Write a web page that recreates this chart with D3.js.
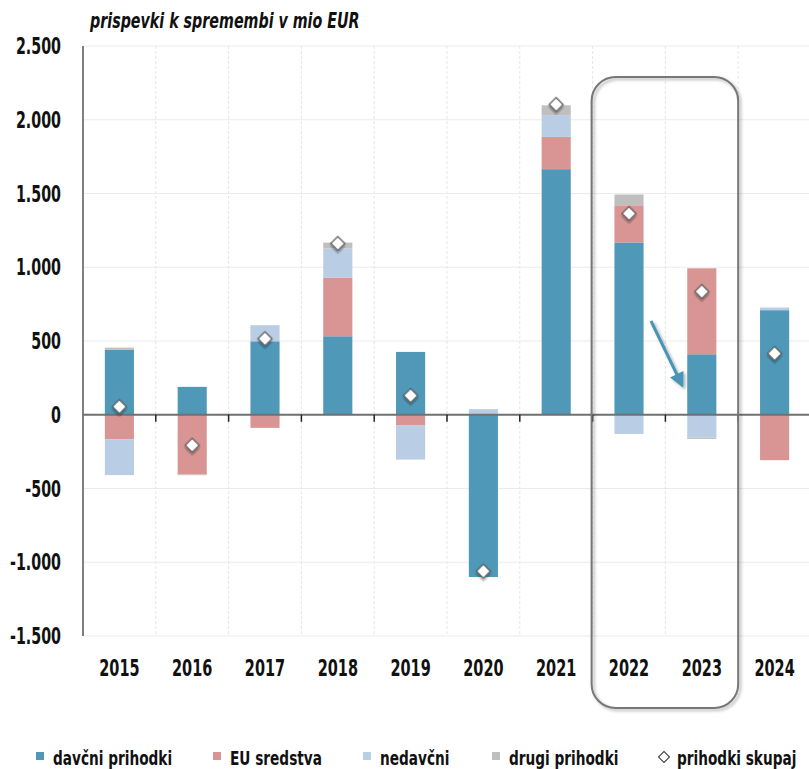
<!DOCTYPE html>
<html>
<head>
<meta charset="utf-8">
<script src="https://cdn.jsdelivr.net/npm/d3@7"></script>
<style>
  body { margin: 0; background: #fff; }
  svg { display: block; font-family: "DejaVu Sans", sans-serif; }
</style>
</head>
<body>
<svg id="chart" width="809" height="769"></svg>
<script>
// data (mio EUR)
const years = ["2015","2016","2017","2018","2019","2020","2021","2022","2023","2024"];
const davcni   = [440, 189, 498, 532, 426, -1100, 1665, 1168, 410, 709];
const euSred   = [-166, -405, -89, 398, -73, 0, 219, 252, 583, -308];
const nedavcni = [-243, 0, 109, 197, -231, 38, 147, -130, -155, 18];
const drugi    = [15, -5, 0, 40, 0, 0, 67, 73, -9, 0];
const skupaj   = [55, -207, 515, 1161, 130, -1061, 2103, 1364, 835, 415];

const yTicks = [-1500, -1000, -500, 0, 500, 1000, 1500, 2000, 2500];
const keys = ["davcni", "eu", "nedavcni", "drugi"];
const labels = {davcni: "davčni prihodki", eu: "EU sredstva", nedavcni: "nedavčni", drugi: "drugi prihodki"};
const color = d3.scaleOrdinal()
    .domain(keys)
    .range(["#4f98b8", "#d99594", "#b9cde4", "#bfbfbf"]);

const rows = years.map((yr, i) => ({
    year: yr, davcni: davcni[i], eu: euSred[i], nedavcni: nedavcni[i], drugi: drugi[i], total: skupaj[i]
}));

const svg = d3.select("#chart");
const margin = {top: 46, right: 0, bottom: 133, left: 83};
const width = 811 - margin.left, height = 769 - margin.top - margin.bottom;

const x = d3.scaleBand().domain(years).range([margin.left, margin.left + width]).paddingInner(0).paddingOuter(0);
const y = d3.scaleLinear().domain([-1500, 2500]).range([margin.top + height, margin.top]);

// narrow text: the original uses a condensed face, so squeeze DejaVu horizontally
const narrow = (sx) => (sel) => sel
    .attr("transform", function() {
        const t = d3.select(this);
        return `translate(${t.attr("data-x")},${t.attr("data-y")}) scale(${sx},1)`;
    });

const defs = svg.append("defs");
const sh = defs.append("filter").attr("id", "shadow").attr("x", "-20%").attr("y", "-20%").attr("width", "150%").attr("height", "150%");
sh.append("feDropShadow").attr("dx", 2).attr("dy", 2).attr("stdDeviation", 1.8)
    .attr("flood-color", "#000").attr("flood-opacity", 0.3);
defs.append("marker").attr("id", "arrowhead")
    .attr("viewBox", "0 0 10 10").attr("refX", 8).attr("refY", 5)
    .attr("markerWidth", 5.5).attr("markerHeight", 5).attr("markerUnits", "strokeWidth")
    .attr("orient", "auto")
  .append("path").attr("d", "M0,0 L10,5 L0,10 z").attr("fill", "#4a95b5");

// grid
svg.append("g").selectAll("line").data(yTicks).join("line")
    .attr("x1", margin.left).attr("x2", margin.left + width)
    .attr("y1", d => y(d)).attr("y2", d => y(d))
    .attr("stroke", "#ebebeb").attr("stroke-width", 1);
svg.append("g").selectAll("line").data(years.slice(1)).join("line")
    .attr("x1", d => x(d)).attr("x2", d => x(d))
    .attr("y1", y(2500)).attr("y2", y(-1500))
    .attr("stroke", "#e6e6e6").attr("stroke-width", 1).attr("stroke-dasharray", "3 2");

// stacked bars
const series = d3.stack().keys(keys).offset(d3.stackOffsetDiverging)(rows);
const barW = x.bandwidth() * 0.4;
svg.append("g").selectAll("g").data(series).join("g")
    .attr("fill", d => color(d.key))
  .selectAll("rect").data(d => d).join("rect")
    .attr("x", d => x(d.data.year) + (x.bandwidth() - barW) / 2)
    .attr("width", barW)
    .attr("y", d => y(d[1]))
    .attr("height", d => y(d[0]) - y(d[1]));

// axes lines
svg.append("line")
    .attr("x1", margin.left).attr("x2", margin.left)
    .attr("y1", y(2500)).attr("y2", y(-1500))
    .attr("stroke", "#808080").attr("stroke-width", 2);
svg.append("line")
    .attr("x1", margin.left).attr("x2", margin.left + width)
    .attr("y1", y(0)).attr("y2", y(0))
    .attr("stroke", "#707070").attr("stroke-width", 2);
svg.append("g").selectAll("line").data(years.slice(1)).join("line")
    .attr("x1", d => x(d)).attr("x2", d => x(d))
    .attr("y1", y(0)).attr("y2", y(0) + 7)
    .attr("stroke", "#222").attr("stroke-width", 1.5);

// y labels
const fmt = d => d3.format(",")(d).replace(/,/g, ".").replace("−", "-");
svg.append("g").selectAll("text").data(yTicks).join("text")
    .attr("data-x", 61).attr("data-y", d => y(d) + 8)
    .attr("text-anchor", "end").attr("font-size", 23).attr("font-weight", "bold").attr("fill", "#111")
    .text(fmt)
    .call(narrow(0.62));

// x labels
svg.append("g").selectAll("text").data(years).join("text")
    .attr("data-x", d => x(d) + x.bandwidth() / 2).attr("data-y", 676)
    .attr("text-anchor", "middle").attr("font-size", 23).attr("font-weight", "bold").attr("fill", "#111")
    .text(d => d)
    .call(narrow(0.63));

// totals
const diamond = d3.symbol().type(d3.symbolSquare).size(98);
svg.append("g").selectAll("path").data(rows).join("path")
    .attr("d", diamond)
    .attr("transform", d => `translate(${x(d.year) + x.bandwidth() / 2},${y(d.total)}) rotate(45)`)
    .attr("fill", "#fff").attr("stroke", "#555").attr("stroke-width", 1.2)
    .attr("filter", "url(#shadow)");

// highlight box around 2022-2023
svg.append("rect")
    .attr("x", x("2022") - 1).attr("y", 77)
    .attr("width", x("2024") - x("2022") + 1).attr("height", 631)
    .attr("rx", 24).attr("ry", 24)
    .attr("fill", "none").attr("stroke", "#777").attr("stroke-width", 2)
    .attr("filter", "url(#shadow)");

// arrow
svg.append("line")
    .attr("x1", 651).attr("y1", 321).attr("x2", 682).attr("y2", 385)
    .attr("stroke", "#4a95b5").attr("stroke-width", 3)
    .attr("marker-end", "url(#arrowhead)")
    .attr("filter", "url(#shadow)");

// title
svg.append("text")
    .attr("data-x", 90).attr("data-y", 28)
    .attr("font-size", 21).attr("font-style", "italic").attr("font-weight", "bold").attr("fill", "#111")
    .text("prispevki k spremembi v mio EUR")
    .call(narrow(0.68));

// legend
const legendItems = [
    {key: "davcni", x: 36},
    {key: "eu", x: 213},
    {key: "nedavcni", x: 363},
    {key: "drugi", x: 492}
];
const lg = svg.append("g");
legendItems.forEach(it => {
    lg.append("rect").attr("x", it.x).attr("y", 752).attr("width", 8).attr("height", 8)
        .attr("fill", color(it.key));
    lg.append("text").attr("data-x", it.x + 17).attr("data-y", 765)
        .attr("font-size", 19).attr("font-weight", "bold").attr("fill", "#111").text(labels[it.key])
        .call(narrow(0.72));
});
lg.append("path").attr("d", d3.symbol().type(d3.symbolSquare).size(60))
    .attr("transform", "translate(664,757) rotate(45)")
    .attr("fill", "#fff").attr("stroke", "#333").attr("stroke-width", 1);
lg.append("text").attr("data-x", 677).attr("data-y", 765)
    .attr("font-size", 19).attr("font-weight", "bold").attr("fill", "#111").text("prihodki skupaj")
    .call(narrow(0.72));
</script>
</body>
</html>
